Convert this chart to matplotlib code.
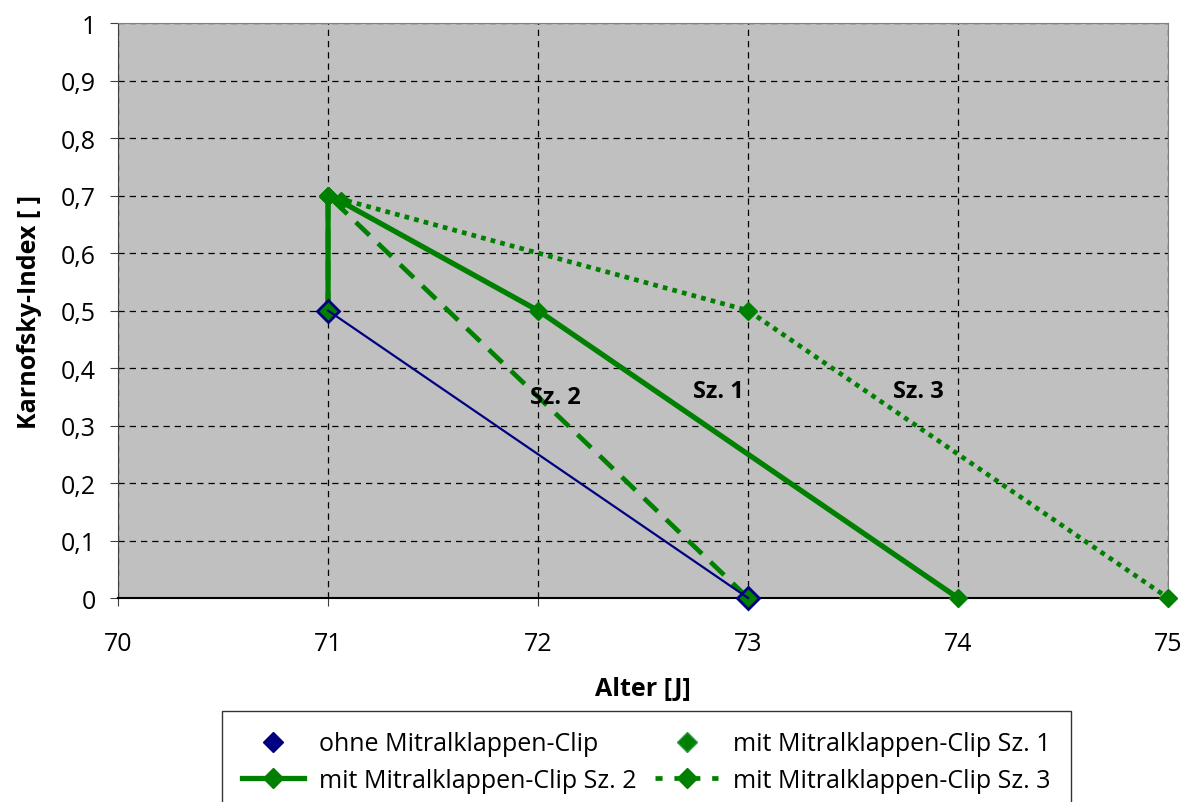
import matplotlib
matplotlib.use('Agg')
import matplotlib.pyplot as plt
from matplotlib.lines import Line2D
from matplotlib.ticker import FuncFormatter

plt.rcParams['font.family'] = ['Open Sans', 'DejaVu Sans']

# Daten
ohne_x = [71, 73]
ohne_y = [0.5, 0]
sz1_x = [71, 71, 71.06, 72, 74]
sz1_y = [0.5, 0.7, 0.69, 0.5, 0]
sz2_x = [71, 71, 73]
sz2_y = [0.5, 0.7, 0]
sz3_x = [71, 73, 75]
sz3_y = [0.7, 0.5, 0]

labels = ['ohne Mitralklappen-Clip', 'mit Mitralklappen-Clip Sz. 1',
          'mit Mitralklappen-Clip Sz. 2', 'mit Mitralklappen-Clip Sz. 3']
notes = [('Sz. 2', 72.08, 0.35), ('Sz. 1', 72.86, 0.36), ('Sz. 3', 73.81, 0.36)]

green = '#008000'
navy = '#000080'

fig = plt.figure(figsize=(11.86, 8.03), dpi=100)
ax = fig.add_axes([0.0995, 0.254, 0.8855, 0.716])
ax.set_facecolor('#c0c0c0')

ax.plot(sz3_x, sz3_y, color=green, lw=3.4, ls=(0, (1, 1.1)), marker='D', ms=9.5,
        mfc=green, mec=green, clip_on=False, zorder=3)
ax.plot(sz2_x, sz2_y, color=green, lw=3.4, ls=(0, (4, 2.5)), marker='D', ms=9.5,
        mfc=green, mec=green, clip_on=False, zorder=3)
ax.plot(sz1_x, sz1_y, color=green, lw=3.8, marker='D', ms=9.5,
        mfc=green, mec=green, clip_on=False, zorder=3)
ax.plot(ohne_x, ohne_y, color=navy, lw=1.6, marker='D', ms=11,
        mfc='none', mec=navy, mew=2, clip_on=False, zorder=4)

for txt, x, y in notes:
    ax.text(x, y, txt, fontsize=17, fontweight='bold', ha='center', va='center')

ax.set_xlim(70, 75)
ax.set_ylim(0, 1)
ax.set_xticks(range(70, 76))
ax.set_yticks([i / 10 for i in range(11)])
ax.yaxis.set_major_formatter(FuncFormatter(lambda v, p: ('%g' % round(v, 1)).replace('.', ',')))
ax.tick_params(labelsize=18, length=6, direction='out', color='#404040')
ax.tick_params(axis='x', pad=18)
ax.tick_params(axis='y', pad=10)
ax.grid(True, color='black', ls=(0, (5, 4)), lw=0.9)
ax.set_axisbelow(True)
ax.spines['top'].set_color('#808080')
ax.spines['right'].set_color('#808080')
ax.spines['left'].set_color('#404040')
ax.spines['bottom'].set_color('black')
ax.spines['bottom'].set_linewidth(1.5)

ax.set_xlabel('Alter [J]', fontsize=18, fontweight='bold')
ax.set_ylabel('Karnofsky-Index [ ]', fontsize=18, fontweight='bold')
ax.xaxis.set_label_coords(0.5, -0.135)
ax.yaxis.set_label_coords(-0.072, 0.5)

handles = [
    Line2D([], [], ls='none', marker='D', ms=10, color=navy),
    Line2D([], [], ls='-', lw=3.8, marker='D', ms=10, color=green),
    Line2D([], [], ls='none', marker='D', ms=10, color=green, mec='#2e9a4a'),
    Line2D([], [], ls=(0, (1.5, 2.5)), lw=3.4, marker='D', ms=10, color=green),
]
order = [labels[0], labels[2], labels[1], labels[3]]
leg = fig.legend(handles, order, loc='upper center', bbox_to_anchor=(0.5447, 0.113),
                 ncol=2, fontsize=18, frameon=True, fancybox=False, edgecolor='black',
                 handlelength=2.5, handletextpad=0.6, columnspacing=0.75,
                 borderpad=0.8, labelspacing=0.45, borderaxespad=0)
leg.get_frame().set_linewidth(1.0)

fig.savefig('out.png', dpi=100)
